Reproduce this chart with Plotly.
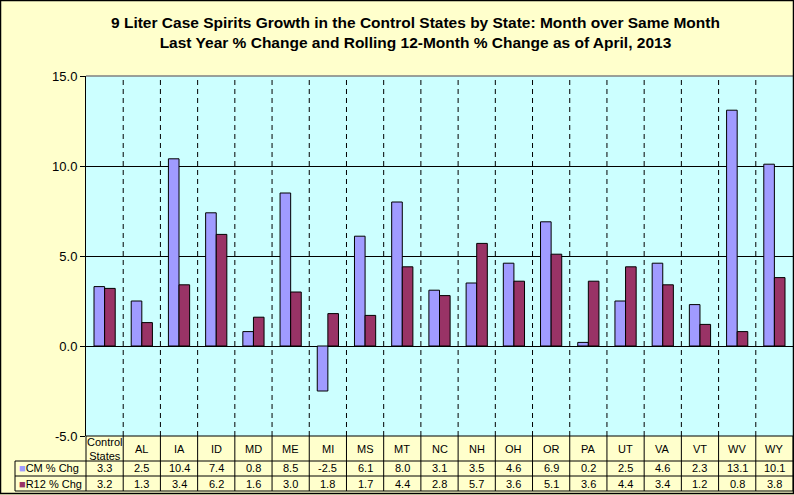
import plotly.graph_objects as go

categories = ["Control States", "AL", "IA", "ID", "MD", "ME", "MI", "MS", "MT", "NC",
              "NH", "OH", "OR", "PA", "UT", "VA", "VT", "WV", "WY"]
header_labels = ["Control<br>States", "AL", "IA", "ID", "MD", "ME", "MI", "MS", "MT", "NC",
                 "NH", "OH", "OR", "PA", "UT", "VA", "VT", "WV", "WY"]
cm_chg = [3.3, 2.5, 10.4, 7.4, 0.8, 8.5, -2.5, 6.1, 8.0, 3.1, 3.5, 4.6, 6.9, 0.2, 2.5, 4.6, 2.3, 13.1, 10.1]
r12_chg = [3.2, 1.3, 3.4, 6.2, 1.6, 3.0, 1.8, 1.7, 4.4, 2.8, 5.7, 3.6, 5.1, 3.6, 4.4, 3.4, 1.2, 0.8, 3.8]
series_names = ["CM % Chg", "R12 % Chg"]
y_ticks = [-5, 0, 5, 10, 15]

CM_COLOR = "#A09BFF"
R12_COLOR = "#993366"
FONT = "Liberation Sans, Arial, sans-serif"

W, H = 794, 495
L, R, T, B = 86, 1, 76, 59
PW, PH = W - L - R, H - T - B

def xp(px):
    return (px - L) / PW

def yp(py):
    return (H - B - py) / PH

n = len(categories)
xs = list(range(n))

fig = go.Figure()
fig.add_trace(go.Bar(x=xs, y=cm_chg, name=series_names[0], marker=dict(color=CM_COLOR, line=dict(color="black", width=1))))
fig.add_trace(go.Bar(x=xs, y=r12_chg, name=series_names[1], marker=dict(color=R12_COLOR, line=dict(color="black", width=1))))

shapes = []
# vertical dashed separators
for i in range(n - 1):
    shapes.append(dict(type="line", xref="x", yref="paper", x0=i + 0.5, x1=i + 0.5, y0=0, y1=1,
                       line=dict(color="black", width=1, dash="5px,4px")))
# top border of plot area
shapes.append(dict(type="line", xref="paper", yref="paper", x0=0, x1=1, y0=1, y1=1,
                   line=dict(color="#808080", width=1.5)))

# data table lines
y_top, y_h, y_cm, y_bot = H - B, 461, 476, 491
for py, x0 in [(y_top, L), (y_h, 15), (y_cm, 15), (y_bot, 15)]:
    shapes.append(dict(type="line", xref="paper", yref="paper", x0=xp(x0), x1=1, y0=yp(py), y1=yp(py),
                       line=dict(color="black", width=1)))
for i in range(n):
    shapes.append(dict(type="line", xref="x", yref="paper", x0=i + 0.5, x1=i + 0.5, y0=yp(y_top), y1=yp(y_bot),
                       line=dict(color="black", width=1)))
shapes.append(dict(type="line", xref="paper", yref="paper", x0=0, x1=0, y0=yp(y_top), y1=yp(y_bot),
                   line=dict(color="black", width=1)))
shapes.append(dict(type="line", xref="paper", yref="paper", x0=xp(15), x1=xp(15), y0=yp(y_h), y1=yp(y_bot),
                   line=dict(color="black", width=1)))
# outer chart border
shapes.append(dict(type="rect", xref="paper", yref="paper", x0=xp(0.5), x1=xp(793.5), y0=yp(493.5), y1=yp(0.5),
                   line=dict(color="black", width=1.5)))

annotations = []
# title
annotations.append(dict(xref="paper", yref="paper", x=xp(415), y=yp(32), xanchor="center", yanchor="middle",
                        showarrow=False, align="center",
                        text="<b>9 Liter Case Spirits Growth in the Control States by State: Month over Same Month<br>"
                             "Last Year % Change and Rolling 12-Month % Change as of April, 2013</b>",
                        font=dict(family=FONT, size=15.5, color="black")))
for i in range(n):
    annotations.append(dict(xref="x", yref="paper", x=i, y=yp((y_top + y_h) / 2), showarrow=False,
                            text=header_labels[i], font=dict(family=FONT, size=11, color="black"),
                            xanchor="center", yanchor="middle"))
    annotations.append(dict(xref="x", yref="paper", x=i, y=yp((y_h + y_cm) / 2), showarrow=False,
                            text=f"{cm_chg[i]:.1f}", font=dict(family=FONT, size=11, color="black"),
                            xanchor="center", yanchor="middle"))
    annotations.append(dict(xref="x", yref="paper", x=i, y=yp((y_cm + y_bot) / 2), showarrow=False,
                            text=f"{r12_chg[i]:.1f}", font=dict(family=FONT, size=11, color="black"),
                            xanchor="center", yanchor="middle"))
for name, color, (a, b) in [(series_names[0], CM_COLOR, (y_h, y_cm)), (series_names[1], R12_COLOR, (y_cm, y_bot))]:
    annotations.append(dict(xref="paper", yref="paper", x=xp(17), y=yp((a + b) / 2), showarrow=False,
                            xanchor="left", yanchor="middle",
                            text=f"<span style='color:{color}'>■</span>{name}",
                            font=dict(family=FONT, size=11, color="black")))

fig.update_layout(
    width=W, height=H,
    margin=dict(l=L, r=R, t=T, b=B),
    paper_bgcolor="#FFFFCC",
    plot_bgcolor="#CCFFFF",
    barmode="group",
    bargap=0.43,
    bargroupgap=0,
    showlegend=False,
    shapes=shapes,
    annotations=annotations,
    xaxis=dict(range=[-0.5, n - 0.5], showticklabels=False, showgrid=False, zeroline=False,
               showline=False, ticks="", fixedrange=True),
    yaxis=dict(range=[-5, 15], tickvals=y_ticks, ticktext=[f"{v:.1f}" for v in y_ticks],
               showgrid=True, gridcolor="black", gridwidth=1,
               zeroline=True, zerolinecolor="black", zerolinewidth=1,
               showline=True, linecolor="black", linewidth=1,
               ticks="outside", ticklen=5, tickcolor="black",
               tickfont=dict(family=FONT, size=13, color="black"), fixedrange=True),
)

fig.write_html("out.html", config={"displayModeBar": False},
               post_script="document.body.style.margin='0';document.body.style.overflow='hidden';")
